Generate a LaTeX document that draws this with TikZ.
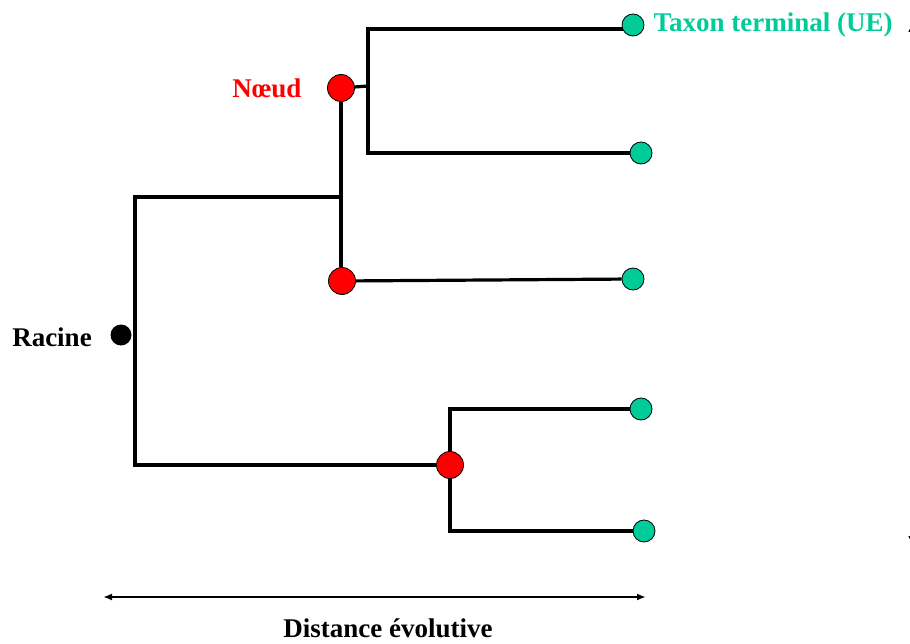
\documentclass[tikz,border=0pt]{standalone}
\usepackage{fontspec}
\setmainfont{Liberation Serif}
\usetikzlibrary{arrows.meta}
\usetikzlibrary{backgrounds}
\definecolor{taxvert}{RGB}{0,204,153}
\definecolor{noeudrouge}{RGB}{255,0,0}
\tikzset{
  branch/.style={line width=3.2pt},
  racine/.style={circle, fill=black, minimum size=21pt, inner sep=0pt},
  noeud/.style={circle, draw=black, line width=0.8pt, fill=noeudrouge, minimum size=27pt, inner sep=0pt},
  taxon/.style={circle, draw=black, line width=0.8pt, fill=taxvert, minimum size=22pt, inner sep=0pt},
  etiq/.style={font=\fontsize{27}{32}\selectfont\bfseries}
}

\begin{document}
\begin{tikzpicture}[x=1pt, y=-1pt]
            \useasboundingbox (0,0) rectangle (910,644);
            % noeuds
            \node[racine] (r) at (121,335) {};
            \node[noeud] (n1) at (341,88) {};
            \node[noeud] (n2) at (342,281) {};
            \node[noeud] (n3) at (450,465) {};
            \node[taxon] (t1) at (633,25) {};
            \node[taxon] (t2) at (641,153) {};
            \node[taxon] (t3) at (633,279) {};
            \node[taxon] (t4) at (641,409) {};
            \node[taxon] (t5) at (644,531) {};
            \coordinate (rh) at (135,197);
            \coordinate (rb) at (135,465);
            \coordinate (c1) at (368,86);
            \coordinate (c2) at (368,29);
            % branches
            \begin{scope}[on background layer]
            \draw[branch] (n2 |- rh) -- (rh) -- (rb) -- (n3);
            \draw[branch] (n1 |- n2.north) -- (n1);
            \draw[branch] (n2) -- (t3);
            \draw[branch] (n1) -- (c1);
            \draw[branch] (t1.south west |- c2) -- (c2) -- (t2 -| c1) -- (t2);
            \draw[branch] (t4) -- (t4 -| n3) -- (t5 -| n3) -- (t5);
            \end{scope}
            % textes
            \node[etiq, text=taxvert, anchor=west] (lt) at (650,25) {Taxon terminal (UE)};
            \node[etiq, text=noeudrouge] (ln) at (267,88) {Nœud};
            \node[etiq] (lr) at (52,337) {Racine};
            % echelle
            \coordinate (d1) at (103,597);
            \coordinate (d2) at (646,597);
            \draw[line width=1.8pt, {Latex[length=9pt,width=7pt]}-{Latex[length=9pt,width=7pt]}] (d1) -- (d2);
            \node[etiq] (ld) at (388,628) {Distance évolutive};
            \coordinate (v1) at (913,21);
            \coordinate (v2) at (913,547);
            \draw[line width=1.8pt, {Latex[length=11pt,width=10pt]}-{Latex[length=11pt,width=10pt]}] (v1) -- (v2);
        \end{tikzpicture}
\end{document}
